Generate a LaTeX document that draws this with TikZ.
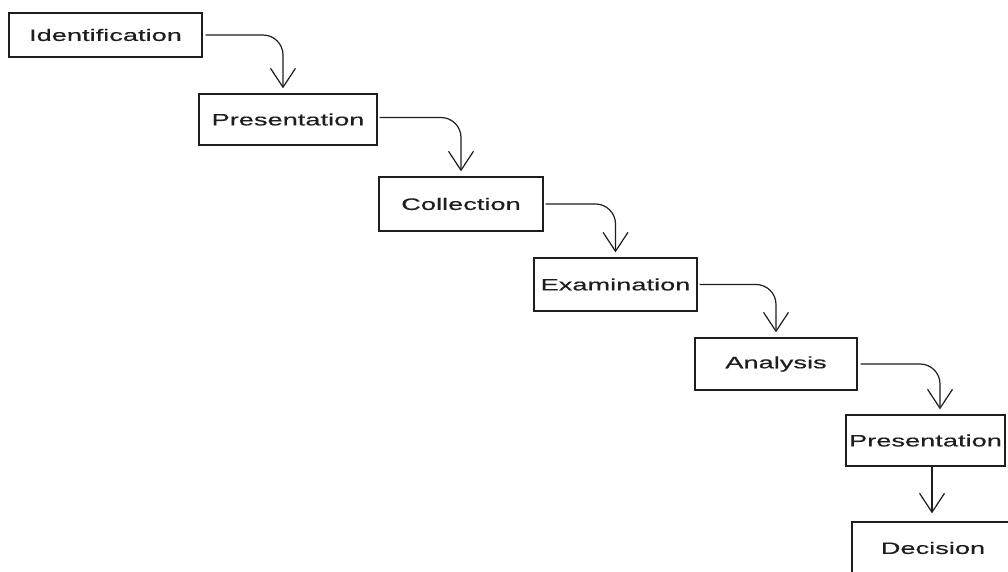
\documentclass[tikz,border=0pt]{standalone}
\usepackage{fontspec}
\setmainfont[FakeStretch=1.65,FakeBold=0.4]{Liberation Sans}
\usetikzlibrary{arrows.meta}
\definecolor{ink}{RGB}{30,30,30}
\begin{document}
\begin{tikzpicture}[x=1pt,y=-1pt,
  stage/.style n args={2}{draw=ink, line width=1.3pt, text=ink,
    minimum width=#1, minimum height=#2, inner sep=0pt,
    font=\fontsize{16.5}{19}\selectfont},
  flow/.style={draw=ink, line width=1.2pt, rounded corners=20pt,
    -{Straight Barb[length=19pt,width=25pt,line width=1.2pt]},
    shorten >=5pt}]
  % canvas
  \fill[white] (0,0) rectangle (1008,571);
  \useasboundingbox (0,0) rectangle (1008,571);
  \clip (0,0) rectangle (1008,571);

  % process stages
  \node[stage={193pt}{44pt}] (ident)  at (105.5,35)  {Identification};
  \node[stage={178pt}{51pt}] (pres1)  at (288,119.5) {Presentation};
  \node[stage={164pt}{54pt}] (coll)   at (461,204)   {Collection};
  \node[stage={163pt}{53pt}] (exam)   at (615.5,284.5) {Examination};
  \node[stage={162pt}{52pt}] (anal)   at (776,364)   {Analysis};
  \node[stage={159pt}{51pt}] (pres2)  at (925.5,440.5) {Presentation};
  \node[stage={162pt}{52pt}] (decide) at (933,548)   {Decision};

  % connectors
  \draw[flow] ([xshift=3pt]ident.east) -| ([xshift=-5pt]pres1.north);
  \draw[flow] ([xshift=2pt,yshift=2pt]pres1.east) -| (coll.north);
  \draw[flow] ([xshift=2pt]coll.east) -| (exam.north);
  \draw[flow] ([xshift=2pt]exam.east) -| (anal.north);
  \draw[flow] ([xshift=3pt]anal.east) -| ([xshift=14.5pt]pres2.north);
  \draw[flow, shorten >=8pt] ([xshift=6.5pt]pres2.south) -- ([xshift=-1pt]decide.north);
\end{tikzpicture}
\end{document}
